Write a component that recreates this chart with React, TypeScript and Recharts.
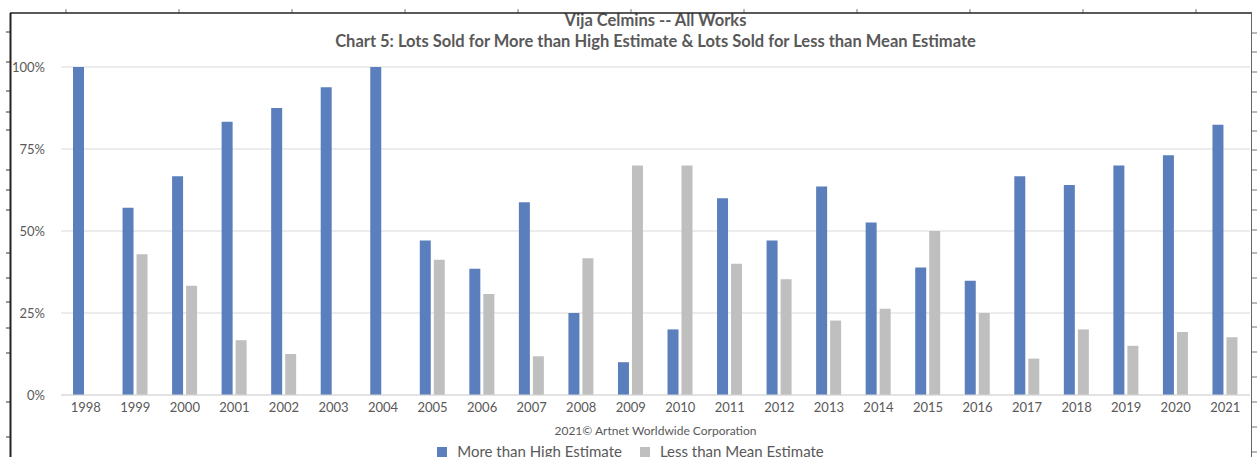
import React from "react";
import {
  BarChart,
  Bar,
  XAxis,
  YAxis,
  CartesianGrid,
  Legend,
} from "recharts";

const years = [
  "1998", "1999", "2000", "2001", "2002", "2003", "2004", "2005",
  "2006", "2007", "2008", "2009", "2010", "2011", "2012", "2013",
  "2014", "2015", "2016", "2017", "2018", "2019", "2020", "2021",
];
const moreThanHigh = [
  100, 57.1, 66.7, 83.3, 87.5, 93.8, 100, 47.1, 38.5, 58.8, 25, 10,
  20, 60, 47.1, 63.6, 52.6, 38.9, 34.8, 66.7, 64, 70, 73.1, 82.4,
];
const lessThanMean = [
  0, 42.9, 33.3, 16.7, 12.5, 0, 0, 41.2, 30.8, 11.8, 41.7, 70,
  70, 40, 35.3, 22.7, 26.3, 50, 25, 11.1, 20, 15, 19.2, 17.6,
];
const yTicks = [0, 25, 50, 75, 100];
const seriesNames = ["More than High Estimate", "Less than Mean Estimate"];

const BLUE = "#5b7fbc";
const GREY = "#bfbfbf";
const TEXT = "#595959";

const data = years.map((year, i) => ({
  year,
  high: moreThanHigh[i],
  mean: lessThanMean[i],
}));

// spreadsheet frame around the chart (decoration only)
const topTicks = [66, 179, 292, 405, 518, 631, 744, 857, 970, 1083, 1196];
const leftTicks = [32, 62, 91, 112, 130, 170, 190, 210, 253, 278, 302, 328, 353, 402, 437];
const rightTicks = [33, 52, 72, 92, 112, 131, 150, 170, 190, 210, 230, 253, 278, 303, 327, 352, 377, 402, 427, 452];

function LegendContent(props: any) {
  const items = [...(props.payload || [])].sort(
    (a: any, b: any) => seriesNames.indexOf(a.value) - seriesNames.indexOf(b.value)
  );
  return (
    <div style={{ display: "flex", justifyContent: "center", gap: 18 }}>
      {items.map((it: any) => (
        <div key={it.value} style={{ display: "flex", alignItems: "center" }}>
          <span
            style={{
              display: "inline-block",
              width: 10,
              height: 10,
              background: it.color,
              marginRight: 10,
            }}
          />
          <span style={{ color: TEXT, fontSize: 15, lineHeight: "15px" }}>{it.value}</span>
        </div>
      ))}
    </div>
  );
}

const titleStyle: React.CSSProperties = {
  position: "absolute",
  left: 61,
  width: 1189,
  textAlign: "center",
  fontWeight: 700,
  fontSize: 16.5,
  lineHeight: 1,
  color: TEXT,
};

export default function App() {
  return (
    <div
      style={{
        position: "absolute",
        left: 0,
        top: 0,
        width: 1257,
        height: 457,
        overflow: "hidden",
        background: "#fff",
        fontFamily: "Lato, sans-serif",
      }}
    >
      <div style={{ ...titleStyle, top: 12 }}>Vija Celmins -- All Works</div>
      <div style={{ ...titleStyle, top: 33 }}>
        Chart 5: Lots Sold for More than High Estimate &amp; Lots Sold for Less than Mean Estimate
      </div>

      <BarChart
        width={1257}
        height={457}
        data={data}
        margin={{ top: 67, right: 7, left: 11, bottom: 32 }}
        barGap={3}
        barSize={11}
      >
        <CartesianGrid vertical={false} stroke="#d9d9d9" />
        <XAxis
          dataKey="year"
          interval={0}
          height={30}
          tickLine={false}
          tickSize={0}
          tickMargin={8}
          axisLine={{ stroke: "#d9d9d9" }}
          tick={{ fill: TEXT, fontSize: 13 }}
        />
        <YAxis
          domain={[0, 100]}
          ticks={yTicks}
          width={50}
          axisLine={false}
          tickLine={false}
          tickSize={0}
          tickMargin={16}
          tick={{ fill: TEXT, fontSize: 13 }}
          tickFormatter={(v: number) => `${v}%`}
        />
        <Legend
          layout="horizontal"
          verticalAlign="middle"
          align="center"
          content={<LegendContent />}
          wrapperStyle={{ top: 444, left: 36, width: 1189 }}
        />
        <Bar dataKey="high" name={seriesNames[0]} fill={BLUE} isAnimationActive={false} />
        <Bar dataKey="mean" name={seriesNames[1]} fill={GREY} isAnimationActive={false} />
      </BarChart>

      <div
        style={{
          position: "absolute",
          top: 425,
          left: 61,
          width: 1189,
          textAlign: "center",
          fontSize: 12,
          lineHeight: 1,
          color: TEXT,
        }}
      >
        2021© Artnet Worldwide Corporation
      </div>

      <svg
        width={1257}
        height={457}
        style={{ position: "absolute", left: 0, top: 0, pointerEvents: "none" }}
      >
        {topTicks.map((x) => (
          <line key={"t" + x} x1={x} x2={x} y1={9} y2={13} stroke="#777" />
        ))}
        {leftTicks.map((y) => (
          <line key={"l" + y} x1={6} x2={10} y1={y} y2={y} stroke="#333" />
        ))}
        {rightTicks.map((y) => (
          <line key={"r" + y} x1={1252} x2={1257} y1={y} y2={y} stroke="#777" />
        ))}
        <line x1={10} x2={1252} y1={13} y2={13} stroke="#222" strokeWidth={1.5} />
        <line x1={10.5} x2={10.5} y1={13} y2={457} stroke="#222" strokeWidth={2} />
        <line x1={1251.5} x2={1251.5} y1={13} y2={457} stroke="#666" strokeWidth={1} />
      </svg>
    </div>
  );
}
